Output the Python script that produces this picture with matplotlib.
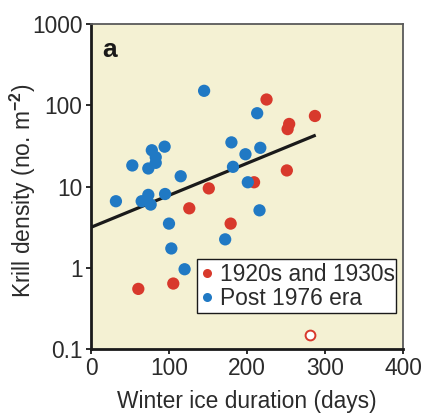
import matplotlib
matplotlib.use("Agg")
import matplotlib.pyplot as plt
from matplotlib.ticker import FixedLocator, FixedFormatter, NullLocator
from matplotlib.lines import Line2D

plt.rcParams['font.family'] = ['Liberation Sans', 'DejaVu Sans']
plt.rcParams['mathtext.fontset'] = 'custom'
plt.rcParams['mathtext.rm'] = 'Liberation Sans'
plt.rcParams['mathtext.it'] = 'Liberation Sans:italic'
plt.rcParams['mathtext.bf'] = 'Liberation Sans:bold'

# 1920s and 1930s samples
red_x = [60.7, 105.5, 126, 151, 179, 209, 225, 251, 252, 254, 287]
red_y = [0.55, 0.64, 5.4, 9.5, 3.5, 11.3, 118, 15.8, 51, 59, 74]

# post 1976 era samples
blue_x = [32, 53, 65, 73.5, 73.5, 76.5, 78, 83, 83, 94.4, 95, 100, 103,
          115, 120, 145, 172, 180, 182, 198, 201, 213, 216, 217]
blue_y = [6.6, 18.2, 6.6, 16.7, 7.9, 6.0, 28, 23, 19.6, 31, 8.1, 3.5, 1.73,
          13.4, 0.96, 151, 2.24, 35, 17.5, 25, 11.3, 80, 5.1, 30]

# excluded point (open circle)
outlier_x = [281]
outlier_y = [0.149]

# fitted trend
trend_x = [0, 288]
trend_y = [3.15, 43]

xticks = [0, 100, 200, 300, 400]
yticks = [0.1, 1, 10, 100, 1000]
ytick_labels = ["0.1", "1", "10", "100", "1000"]

red = '#d8392c'
blue = '#2079c4'
txt = '#2b2b2b'
fs = 16.4

fig = plt.figure(figsize=(4.23, 4.16), dpi=100)
ax = fig.add_axes([0.215, 0.161, 0.738, 0.781])
ax.set_facecolor('#f4f1d3')

ax.plot(trend_x, trend_y, color='#1a1a1a', lw=2.3, zorder=2, solid_capstyle='butt')
ax.scatter(red_x, red_y, s=78, color=red, edgecolors='none', zorder=3)
ax.scatter(blue_x, blue_y, s=78, color=blue, edgecolors='none', zorder=3)
ax.scatter(outlier_x, outlier_y, s=50, facecolors='white', edgecolors=red,
           linewidths=1.4, zorder=3)

ax.set_yscale('log')
ax.set_xlim(0, 400)
ax.set_ylim(0.1, 1000)
ax.xaxis.set_major_locator(FixedLocator(xticks))
ax.yaxis.set_major_locator(FixedLocator(yticks))
ax.yaxis.set_major_formatter(FixedFormatter(ytick_labels))
ax.yaxis.set_minor_locator(NullLocator())

ax.tick_params(axis='both', direction='out', length=3.5, width=1.3,
               color='#1a1a1a', labelsize=fs, labelcolor=txt, pad=2.5)

for side in ['left', 'bottom']:
    ax.spines[side].set_color('#1a1a1a')
    ax.spines[side].set_linewidth(2.0)
for side in ['top', 'right']:
    ax.spines[side].set_color('#5a5a5a')
    ax.spines[side].set_linewidth(1.3)

ax.set_xlabel('Winter ice duration (days)', fontsize=fs, color=txt)
ax.xaxis.set_label_coords(0.5, -0.126)
ax.set_ylabel(r'Krill density (no. m$^{\mathbf{-2}}$)', fontsize=fs, color=txt)
ax.yaxis.set_label_coords(-0.17, 0.486)

ax.text(0.035, 0.898, 'a', transform=ax.transAxes, fontsize=19,
        fontweight='bold', color='#1a1a1a')

handles = [
    Line2D([], [], ls='none', marker='o', markersize=6.5, color=red, mec='none'),
    Line2D([], [], ls='none', marker='o', markersize=6.5, color=blue, mec='none'),
]
leg = ax.legend(handles, ['1920s and 1930s', 'Post 1976 era'],
                loc='lower left', bbox_to_anchor=(0.339, 0.11, 0.639, 0.174),
                mode='expand', fontsize=fs, frameon=True, fancybox=False,
                handlelength=0.6, handletextpad=0.25, borderpad=0.15,
                labelspacing=0.05, borderaxespad=0, labelcolor=txt)
leg.get_frame().set_edgecolor('#1a1a1a')
leg.get_frame().set_linewidth(1.0)
leg.get_frame().set_facecolor('white')
leg.get_frame().set_alpha(1)

fig.savefig('out.png', dpi=100)
